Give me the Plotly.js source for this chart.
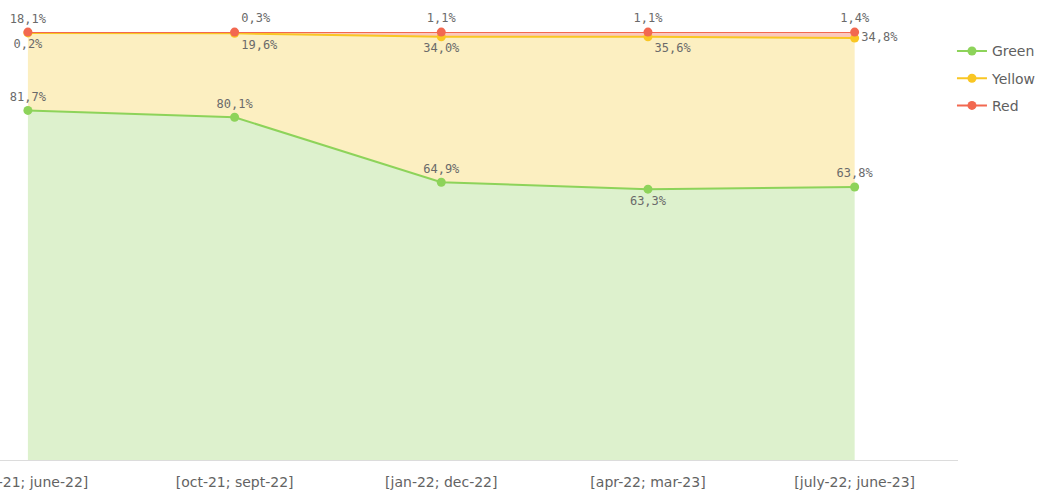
<!DOCTYPE html>
<html><head><meta charset="utf-8">
<script src="https://cdn.plot.ly/plotly-3.0.1.min.js"></script>
<style>html,body{margin:0;padding:0;background:#fff;}#chart{width:1043px;height:493px;}</style>
</head><body><div id="chart"></div>
<script>
var categories = ["[july-21; june-22]", "[oct-21; sept-22]", "[jan-22; dec-22]", "[apr-22; mar-23]", "[july-22; june-23]"];
var green = [81.7, 80.1, 64.9, 63.3, 63.8];
var yellow = [18.1, 19.6, 34.0, 35.6, 34.8];
var red = [0.2, 0.3, 1.1, 1.1, 1.4];

var greenPos = ["top center", "top center", "top center", "bottom center", "top center"];
var yellowPos = ["top center", "bottom right", "bottom center", "bottom right", "middle right"];
var redPos = ["bottom center", "top right", "top center", "top center", "top center"];

function fmt(v){ return v.toFixed(1).replace('.', ',') + '%'; }
function r1(v){ return Math.round(v * 10) / 10; }
var xs = categories.map(function(c,i){return i;});
var greenTop = green.map(r1);
var yellowTop = green.map(function(v,i){return r1(v + yellow[i]);});
var redTop = yellowTop.map(function(v,i){return r1(v + red[i]);});

var labelFont = {family: "DejaVu Sans Mono", size: 12, color: "#6a6a6a"};
var colors = {g: 'rgb(141,211,90)', y: 'rgb(249,198,35)', r: 'rgb(242,104,80)'};

function fillTr(vals, fill){
  return {type: 'scatter', mode: 'none', x: xs, y: vals, stackgroup: 'one',
          fillcolor: fill, showlegend: false, hoverinfo: 'none'};
}
function lineTr(name, tops, vals, pos, col){
  return {
    type: 'scatter', mode: 'lines+markers+text', name: name, legendgroup: name,
    x: xs, y: tops, line: {color: col, width: 2}, marker: {color: col, size: 9},
    text: vals.map(fmt), textposition: pos, textfont: labelFont,
    cliponaxis: false, hoverinfo: 'none'
  };
}

var data = [
  fillTr(green, 'rgb(221,241,205)'),
  fillTr(yellow, 'rgb(252,239,193)'),
  fillTr(red, 'rgb(251,200,190)'),
  lineTr('Green', greenTop, green, greenPos, colors.g),
  lineTr('Yellow', yellowTop, yellow, yellowPos, colors.y),
  lineTr('Red', redTop, red, redPos, colors.r)
];

var layout = {
  width: 1043, height: 493,
  margin: {l: 0, r: 85, t: 32, b: 33},
  paper_bgcolor: '#fff', plot_bgcolor: '#fff',
  showlegend: true,
  legend: {traceorder: 'grouped', x: 0.9937, xanchor: 'left', y: 0.992, yanchor: 'top',
           font: {family: 'DejaVu Sans', size: 14, color: '#5f5f5f'}, itemwidth: 30, tracegroupgap: 6},
  xaxis: {range: [-0.135, 4.5], tickvals: xs, ticktext: categories, showgrid: false, zeroline: false,
          showline: true, linecolor: '#dcdcdc', linewidth: 1, ticks: '', ticklabeloverflow: 'allow',
          ticklabelstandoff: 9,
          tickfont: {family: 'DejaVu Sans', size: 14, color: '#636363'}},
  yaxis: {range: [0, 100.02], visible: false, showgrid: false, zeroline: false, fixedrange: true},
  hovermode: false
};

Plotly.newPlot('chart', data, layout, {staticPlot: true, displayModeBar: false});
</script></body></html>
